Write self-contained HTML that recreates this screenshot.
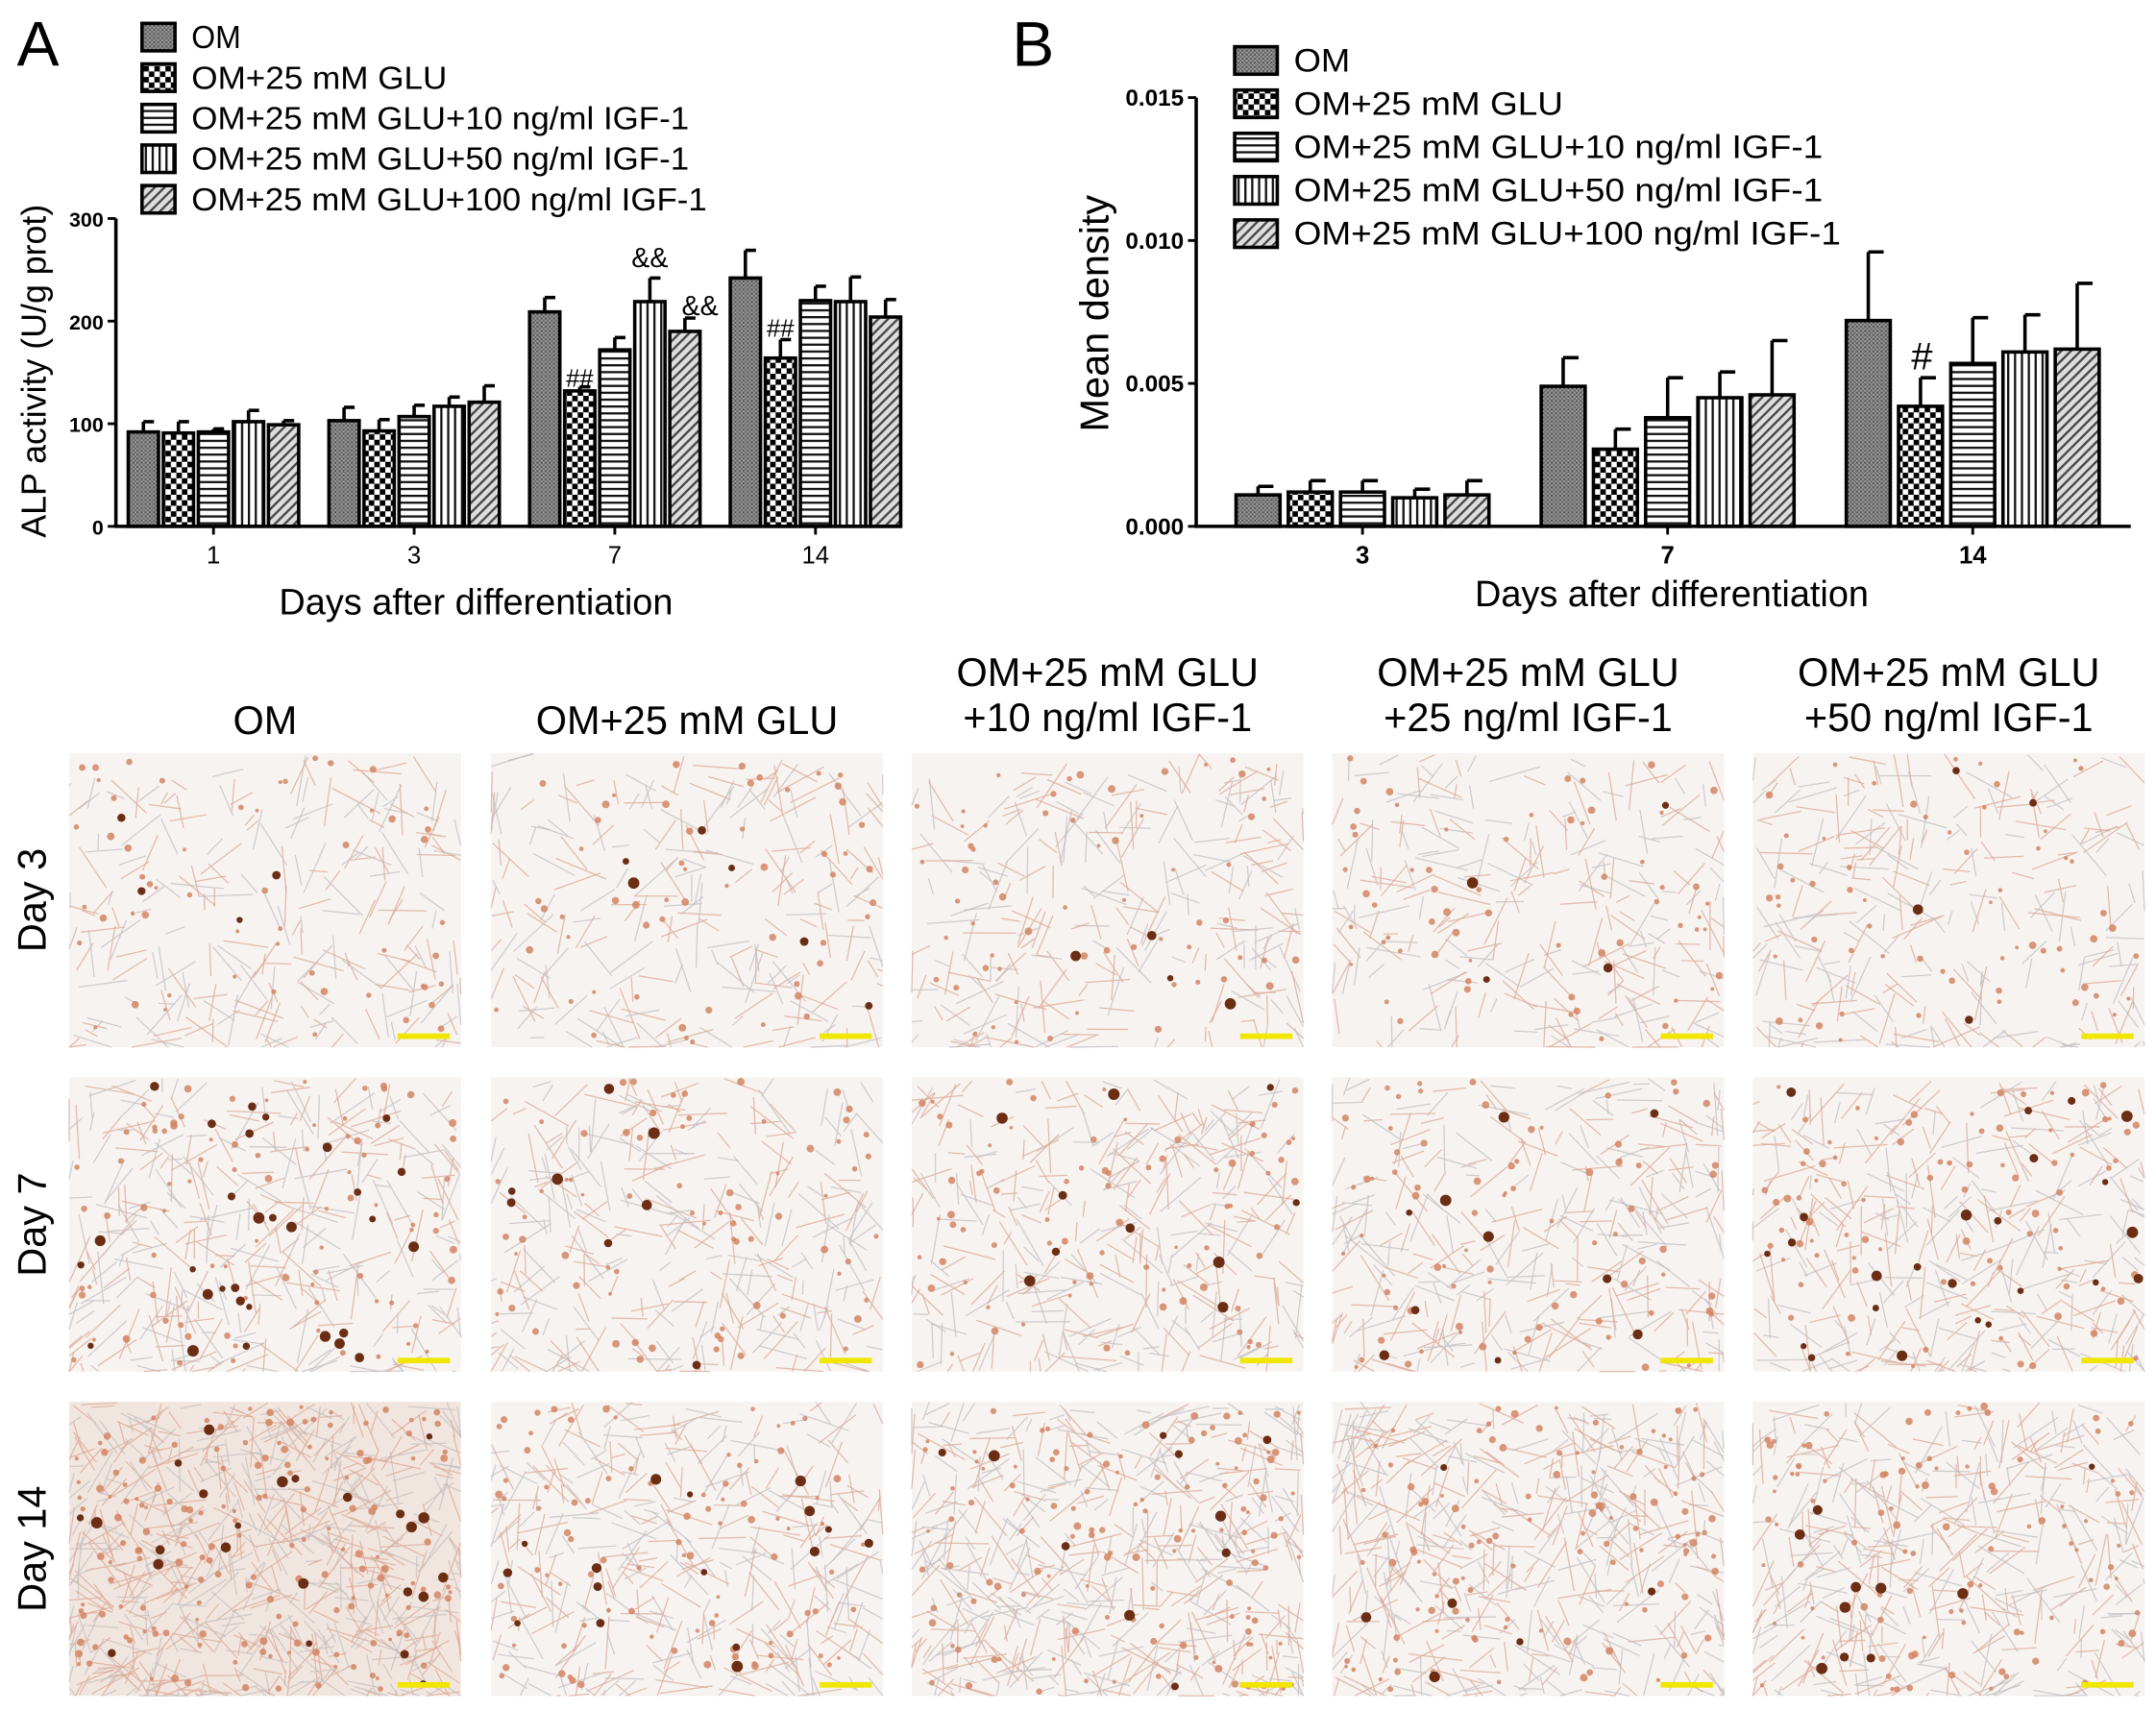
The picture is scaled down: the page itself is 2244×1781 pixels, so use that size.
<!DOCTYPE html>
<html><head><meta charset="utf-8"><style>
html,body{margin:0;padding:0;background:#fff;}
svg{display:block;font-family:"Liberation Sans",Arial,sans-serif;}
</style></head><body>
<svg id="fig" width="2244" height="1781" viewBox="0 0 1568 1245" xmlns="http://www.w3.org/2000/svg">
<defs>
<pattern id="p0" width="3" height="3" patternUnits="userSpaceOnUse"><rect width="3" height="3" fill="#9a9a9a"/><rect width="1.5" height="1.5" fill="#555"/><rect x="1.5" y="1.5" width="1.5" height="1.5" fill="#666"/></pattern>
<pattern id="p1" width="8" height="8" patternUnits="userSpaceOnUse"><rect width="8" height="8" fill="#fff"/><rect width="4" height="4" fill="#000"/><rect x="4" y="4" width="4" height="4" fill="#000"/></pattern>
<pattern id="p2" width="5" height="5" patternUnits="userSpaceOnUse"><rect width="5" height="5" fill="#fff"/><rect width="5" height="1.6" fill="#111"/></pattern>
<pattern id="p3" width="5" height="5" patternUnits="userSpaceOnUse"><rect width="5" height="5" fill="#fff"/><rect width="1.6" height="5" fill="#111"/></pattern>
<pattern id="p4" width="5" height="5" patternUnits="userSpaceOnUse" patternTransform="rotate(45)"><rect width="5" height="5" fill="#ddd"/><rect width="1.6" height="5" fill="#444"/></pattern>
</defs>
<g id="chartA"></g>
<g id="chartB"></g>
<g id="photos"></g>
</svg>
<script>
// ---- Chart A data ----
const daysA = ["1","3","7","14"];
const seriesNames = ["OM","OM+25 mM GLU","OM+25 mM GLU+10 ng/ml IGF-1","OM+25 mM GLU+50 ng/ml IGF-1","OM+25 mM GLU+100 ng/ml IGF-1"];
const alpOM   = [92,103,209,242];
const alpGLU  = [91,93,132,164];
const alp10   = [92,107,172,220];
const alp50   = [102,117,219,219];
const alp100  = [99,121,190,204];
const alpErrOM  = [10,13,14,27];
const alpErrGLU = [11,11,4,18];
const alpErr10  = [3,11,12,14];
const alpErr50  = [11,9,23,24];
const alpErr100 = [4,16,13,17];
const ticksA = [0,100,200,300];
// ---- Chart B data ----
const daysB = ["3","7","14"];
const mdOM  = [0.0011,0.0049,0.0072];
const mdGLU = [0.0012,0.0027,0.0042];
const md10  = [0.0012,0.0038,0.0057];
const md50  = [0.0010,0.0045,0.0061];
const md100 = [0.0011,0.0046,0.0062];
const mdErrOM  = [0.0003,0.0010,0.0024];
const mdErrGLU = [0.0004,0.0007,0.0010];
const mdErr10  = [0.0004,0.0014,0.0016];
const mdErr50  = [0.0003,0.0009,0.0013];
const mdErr100 = [0.0005,0.0019,0.0023];
const ticksB = ["0.000","0.005","0.010","0.015"];

const NS="http://www.w3.org/2000/svg";
function mk(parent,tag,attrs,text){const e=document.createElementNS(NS,tag);for(const k in attrs)e.setAttribute(k,attrs[k]);if(text!==undefined)e.textContent=text;parent.appendChild(e);return e;}
const pats=["url(#p0)","url(#p1)","url(#p2)","url(#p3)","url(#p4)"];

function drawChart(g,cfg){
  const y=v=>cfg.y0-(v-cfg.vmin)/(cfg.vmax-cfg.vmin)*(cfg.y0-cfg.ytop);
  cfg.names.forEach((n,i)=>{
    const ly=cfg.legY+i*cfg.legStep;
    const r=mk(g,'rect',{x:cfg.legX,y:ly-10,width:cfg.legW,height:20,fill:pats[i],stroke:'#000','stroke-width':2.5});
    
    
    const t=mk(g,'text',{x:cfg.legX+cfg.legW+12,y:ly+8,'font-size':cfg.legFs,'textLength':cfg.legLen?cfg.legLen[i]:undefined},n);
    if(cfg.legLen){t.setAttribute('textLength',cfg.legLen[i]);t.setAttribute('lengthAdjust','spacingAndGlyphs');} else t.removeAttribute('textLength');
    
    
  });
  cfg.cats.forEach((c,ci)=>{
    const cx=cfg.x0+cfg.gFirst+ci*cfg.gStep;
    cfg.vals.forEach((arr,si)=>{
      const bx=cx+(si-2)*cfg.bStep-cfg.bW/2;
      const top=y(arr[ci]),et=y(arr[ci]+cfg.errs[si][ci]);
      const bcx=bx+cfg.bW/2;
      const el=mk(g,'line',{x1:bcx,x2:bcx,y1:top,y2:et,stroke:'#000','stroke-width':2.5});
      
      
      mk(g,'line',{x1:bcx,x2:bcx+cfg.bW*0.35,y1:et,y2:et,stroke:'#000','stroke-width':2.5});
      const b=mk(g,'rect',{x:bx,y:top,width:cfg.bW,height:cfg.y0-top,fill:pats[si],stroke:'#000','stroke-width':2.5});
      
      
    });
    const tl=mk(g,'text',{x:cx,y:cfg.y0+27,'font-size':cfg.tickFs,'text-anchor':'middle','font-weight':cfg.bold?'bold':'normal'},c);
    
    
    mk(g,'line',{x1:cx,x2:cx,y1:cfg.y0,y2:cfg.y0+6,stroke:'#000','stroke-width':2});
  });
  const ax=mk(g,'path',{d:`M${cfg.x0} ${cfg.ytop} V${cfg.y0} H${cfg.xEnd}`,fill:'none',stroke:'#000','stroke-width':2.5});
  
  
  cfg.ticks.forEach((t,i)=>{
    const v=cfg.vmin+i*(cfg.vmax-cfg.vmin)/(cfg.ticks.length-1);
    const ty=y(v);
    mk(g,'line',{x1:cfg.x0-6,x2:cfg.x0,y1:ty,y2:ty,stroke:'#000','stroke-width':2});
    const tt=mk(g,'text',{x:cfg.x0-9,y:ty+6,'font-size':cfg.yFs,'text-anchor':'end','font-weight':'bold'},t);
    
    
  });
  const yt=mk(g,'text',{x:0,y:0,'font-size':cfg.yTitleFs,'text-anchor':'middle',transform:`translate(${cfg.yTitleX},${cfg.yTitleY}) rotate(-90)`},cfg.yTitle);
  
  
  const xt=mk(g,'text',{x:cfg.xTitleX,y:cfg.xTitleY,'font-size':26.5,'text-anchor':'middle'},'Days after differentiation');
  
  
  const pl=mk(g,'text',{x:cfg.panelX,y:48,'font-size':46},cfg.panel);
  
  
  return y;
}
const gA=document.getElementById('chartA');
const yA=drawChart(gA,{cats:daysA,names:seriesNames,vals:[alpOM,alpGLU,alp10,alp50,alp100],errs:[alpErrOM,alpErrGLU,alpErr10,alpErr50,alpErr100],
 ticks:ticksA.map(String),vmin:0,vmax:300,x0:84,xEnd:655,y0:383,ytop:159,gFirst:71,gStep:146,bW:22,bStep:25.5,
 legX:103,legY:27,legStep:29.5,legW:24,legFs:23,legLen:[36,186,362,362,375],tickFs:18,yFs:15,bold:false,yTitle:'ALP activity (U/g prot)',yTitleFs:25,yTitleX:33,yTitleY:270,xTitleX:346,xTitleY:447,panel:'A',panelX:12});
function ann(g,x,y,t,fs){const e=mk(g,'text',{x:x,y:y,'font-size':fs,'text-anchor':'middle'},t);}
ann(gA,447-25.5,yA(alpGLU[2])-3,'##',18);
ann(gA,447+25.5,yA(alp50[2]+alpErr50[2])-8,'&&',20);
ann(gA,447+51+11,yA(alp100[2]+alpErr100[2])-2,'&&',20);
ann(gA,593-25.5,yA(alpGLU[3]+alpErrGLU[3])-2,'##',18);

const gB=document.getElementById('chartB');
const yB=drawChart(gB,{cats:daysB,names:seriesNames,vals:[mdOM,mdGLU,md10,md50,md100],errs:[mdErrOM,mdErrGLU,mdErr10,mdErr50,mdErr100],
 ticks:ticksB,vmin:0,vmax:0.015,x0:870,xEnd:1550,y0:383,ytop:71,gFirst:121,gStep:222,bW:32,bStep:38,
 legX:898,legY:44,legStep:31.5,legW:31,legFs:24,legLen:[41,196,385,385,398],tickFs:18,yFs:17,bold:true,yTitle:'Mean density',yTitleFs:29,yTitleX:806,yTitleY:228,xTitleX:1216,xTitleY:441,panel:'B',panelX:736});
ann(gB,1436-38,yB(mdGLU[2]+mdErrGLU[2])-6,'#',28);

// ---- micrographs (decorative texture) ----
const P=document.getElementById('photos');
const colX=[50,357,663,969,1275], rowY=[548,784,1020], pw=285, ph=214;
const heads=[["OM"],["OM+25 mM GLU"],["OM+25 mM GLU","+10 ng/ml IGF-1"],["OM+25 mM GLU","+25 ng/ml IGF-1"],["OM+25 mM GLU","+50 ng/ml IGF-1"]];
const rows=["Day 3","Day 7","Day 14"];
const dens=[[1,1,1.1,1.1,1.1],[1.5,1.3,1.4,1.4,1.5],[3,1.6,2.2,2,1.8]];
const darkD=[[4,6,4,4,4],[30,8,10,10,24],[24,16,10,6,10]];
let seed=12345;function rnd(){seed=(seed*1103515245+12345)%2147483648;return seed/2147483648;}
heads.forEach((h,i)=>{
  h.forEach((line,j)=>{
    const t=mk(P,'text',{x:colX[i]+pw/2,y:(h.length===1?534:499+j*33),'font-size':29,'text-anchor':'middle'},line);
    
    
  });
});
rows.forEach((r,ri)=>{
  const t=mk(P,'text',{x:0,y:0,'font-size':29,'text-anchor':'middle',transform:`translate(33,${rowY[ri]+ph/2}) rotate(-90)`},r);
  
  
  colX.forEach((cx,ci)=>{
    const g=mk(P,'g',{});
    
    
    const d=dens[ri][ci];
    mk(g,'rect',{x:cx,y:rowY[ri],width:pw,height:ph,fill:ri===2&&ci===0?'#f1e6df':'#f6f3f1'});
    const n=Math.round(220*d);
    for(let k=0;k<n;k++){
      const x=cx+rnd()*pw,y=rowY[ri]+rnd()*ph,a=rnd()*Math.PI,l=10+rnd()*30;
      const x2=Math.min(cx+pw,Math.max(cx,x+Math.cos(a)*l)),y2=Math.min(rowY[ri]+ph,Math.max(rowY[ri],y+Math.sin(a)*l));
      mk(g,'line',{x1:x,y1:y,x2:x2,y2:y2,stroke:rnd()<0.5?'#dca895':'#c3bfc1','stroke-width':0.9,'stroke-opacity':0.75});
    }
    const nd=Math.round(55*d);
    for(let k=0;k<nd;k++){
      mk(g,'circle',{cx:cx+3+rnd()*(pw-6),cy:rowY[ri]+3+rnd()*(ph-6),r:1.3+rnd()*1.5,fill:'#d38462','fill-opacity':0.85});
    }
    for(let k=0;k<darkD[ri][ci];k++){
      mk(g,'circle',{cx:cx+4+rnd()*(pw-8),cy:rowY[ri]+4+rnd()*(ph-8),r:2.2+rnd()*2,fill:'#6b2e14'});
    }
    const sb=mk(g,'rect',{x:cx+pw-46,y:rowY[ri]+ph-10,width:38,height:4,fill:'#f0e600'});
    
    
  });
});
</script>
</body></html>
